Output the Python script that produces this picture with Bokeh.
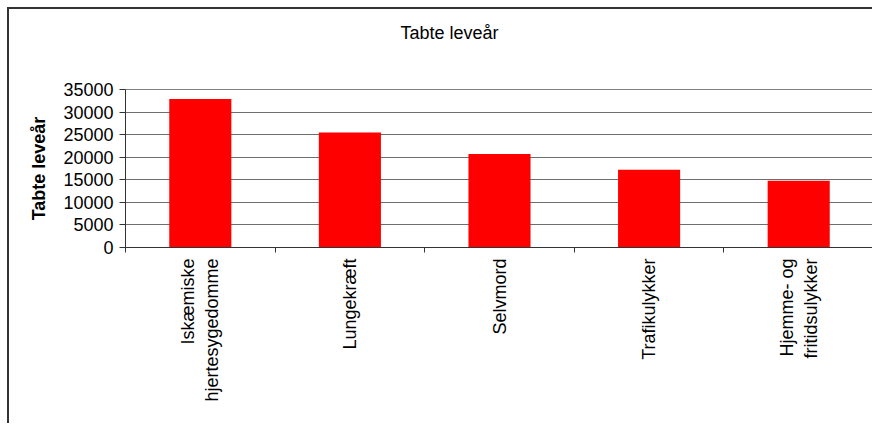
import math

from bokeh.plotting import figure
from bokeh.models import FixedTicker, Range1d, BasicTickFormatter, Title
from bokeh.embed import file_html
from bokeh.resources import INLINE

# Lost years of life by cause
categories = [
    "Iskæmiske\nhjertesygedomme",
    "Lungekræft",
    "Selvmord",
    "Trafikulykker",
    "Hjemme- og\nfritidsulykker",
]
tabte_levear = [32900, 25500, 20700, 17200, 14800]
y_ticks = [0, 5000, 10000, 15000, 20000, 25000, 30000, 35000]

FONT = "Liberation Sans"
n = len(categories)
centers = [i + 0.5 for i in range(n)]

# chart box: 7px page offset plus a 2px frame line on top and left
OFFSET = 9

p = figure(
    width=874 - OFFSET, height=425 - OFFSET,
    output_backend="svg", toolbar_location=None,
    x_range=Range1d(0, n), y_range=Range1d(0, 35000),
    min_border_left=125 - OFFSET, min_border_right=1,
    min_border_top=89 - OFFSET, min_border_bottom=178,
    background_fill_color="white", border_fill_color="white",
    title=None,
)
p.margin = (7, 0, 0, 7)
p.styles = {
    "border-top": "2px solid #333333",
    "border-left": "2px solid #333333",
}
p.outline_line_color = "#808080"
p.outline_line_width = 1

# blank band between the plot area and the chart title
p.add_layout(Title(
    text=" ", standoff=25, text_font=FONT, text_font_size="18px",
), "above")
p.add_layout(Title(
    text="Tabte leveår", align="left", offset=275, standoff=0,
    vertical_align="bottom", text_font=FONT, text_font_size="18px",
    text_font_style="normal", text_color="black",
), "above")

p.vbar(x=centers, top=tabte_levear, width=0.415, bottom=0,
       fill_color="#FF0000", line_color=None)

# category axis: ticks at boundaries, labels at centres
xaxis = p.below[0]
xaxis.ticker = FixedTicker(ticks=centers, minor_ticks=list(range(n + 1)))
xaxis.major_label_overrides = {c: name for c, name in zip(centers, categories)}
xaxis.major_label_orientation = math.pi / 2
xaxis.major_label_text_align = "center"
xaxis.major_tick_line_color = None
xaxis.minor_tick_line_color = "#333333"
xaxis.minor_tick_out = 5
xaxis.minor_tick_in = 0
xaxis.axis_line_color = "#333333"
xaxis.major_label_text_font = FONT
xaxis.major_label_text_font_size = "18px"
xaxis.major_label_text_color = "black"
xaxis.major_label_standoff = 5
p.xgrid.visible = False

# value axis
p.yaxis.ticker = FixedTicker(ticks=y_ticks, minor_ticks=[])
p.yaxis.formatter = BasicTickFormatter(use_scientific=False)
p.yaxis.major_tick_out = 6
p.yaxis.major_tick_in = 0
p.yaxis.major_tick_line_color = "#333333"
p.yaxis.axis_line_color = "#333333"
p.yaxis.major_label_text_font = FONT
p.yaxis.major_label_text_font_size = "18px"
p.yaxis.major_label_text_color = "black"
p.yaxis.major_label_standoff = 6
p.yaxis.axis_label = "Tabte leveår"
p.yaxis.axis_label_text_font = FONT
p.yaxis.axis_label_text_font_size = "18px"
p.yaxis.axis_label_text_font_style = "bold"
p.yaxis.axis_label_text_color = "black"
p.yaxis.axis_label_standoff = 11
p.ygrid.ticker = FixedTicker(ticks=y_ticks, minor_ticks=[])
p.ygrid.grid_line_color = "#6e6e6e"
p.ygrid.grid_line_width = 1

open("out.html", "w").write(file_html(p, INLINE))
